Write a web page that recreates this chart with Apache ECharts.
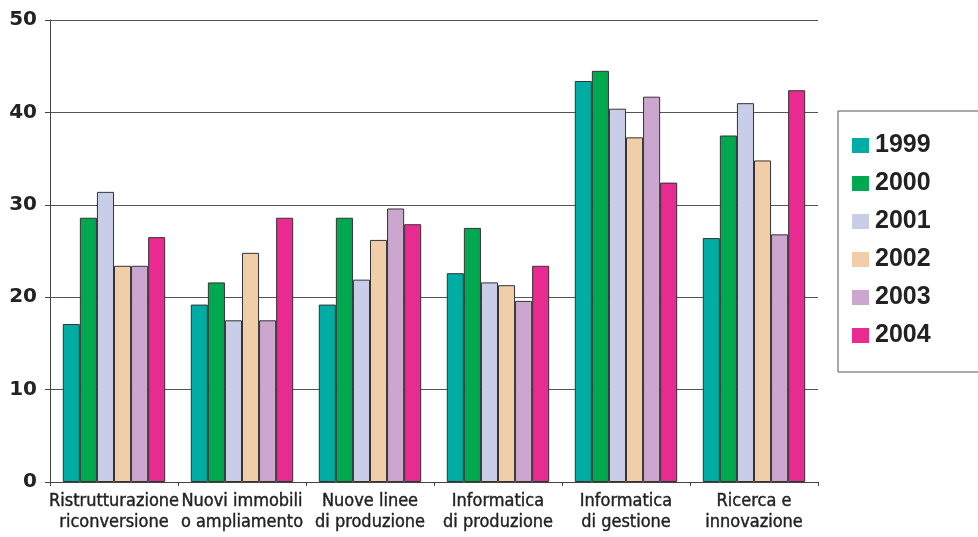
<!DOCTYPE html>
<html>
<head>
<meta charset="utf-8">
<script src="https://cdn.jsdelivr.net/npm/echarts@6/dist/echarts.min.js"></script>
<style>
  html, body { margin: 0; padding: 0; background: #fff; }
  #chart { width: 978px; height: 537px; }
</style>
</head>
<body>
<div id="chart"></div>
<script>
// Investment areas (two-line labels)
const categories = [
  'Ristrutturazione\nriconversione',
  'Nuovi immobili\no ampliamento',
  'Nuove linee\ndi produzione',
  'Informatica\ndi produzione',
  'Informatica\ndi gestione',
  'Ricerca e\ninnovazione'
];

const years = ['1999', '2000', '2001', '2002', '2003', '2004'];

// Percentages per year, one value per category
const v1999 = [17.1, 19.2, 19.2, 22.6, 43.4, 26.4];
const v2000 = [28.6, 21.6, 28.6, 27.5, 44.5, 37.5];
const v2001 = [31.4, 17.5, 21.9, 21.6, 40.4, 41.0];
const v2002 = [23.4, 24.8, 26.2, 21.3, 37.3, 34.8];
const v2003 = [23.4, 17.5, 29.6, 19.6, 41.7, 26.8];
const v2004 = [26.5, 28.6, 27.9, 23.4, 32.4, 42.4];

const seriesValues = [v1999, v2000, v2001, v2002, v2003, v2004];
const colors = ['#00ADA5', '#00A84F', '#C9CEE8', '#F2CEA8', '#CBA7CF', '#E92A8F'];

const yTicks = [0, 10, 20, 30, 40, 50];

const narrow = '"Liberation Sans Narrow", "DejaVu Sans Condensed", "Liberation Sans", sans-serif';

const chart = echarts.init(document.getElementById('chart'), null, { renderer: 'canvas' });

chart.setOption({
  animation: false,
  color: colors,
  grid: { left: 50, right: 160, top: 20, bottom: 55 },
  graphic: [{
    type: 'rect',
    shape: { x: 838, y: 111, width: 160, height: 261 },
    style: { fill: '#fff', stroke: '#555', lineWidth: 1 }
  }],
  legend: {
    orient: 'vertical',
    left: 847,
    top: 128,
    itemWidth: 17,
    itemHeight: 15,
    itemGap: 13,
    icon: 'rect',
    data: years,
    itemStyle: { borderWidth: 0 },
    textStyle: {
      fontFamily: '"Liberation Sans", Arial, sans-serif',
      fontSize: 25,
      fontWeight: 'bold',
      color: '#222',
      lineHeight: 25,
      padding: [0, 0, 0, 1]
    }
  },
  xAxis: {
    type: 'category',
    data: categories,
    axisLine: { lineStyle: { color: '#444', width: 1 } },
    axisTick: { show: true, alignWithLabel: false, length: 4, lineStyle: { color: '#444' } },
    axisLabel: {
      interval: 0,
      margin: 9,
      fontFamily: narrow,
      fontSize: 18,
      lineHeight: 21,
      color: '#222',
      textBorderColor: '#222',
      textBorderWidth: 0.4
    }
  },
  yAxis: {
    type: 'value',
    min: 0,
    max: 50,
    interval: 10,
    axisLine: { show: true, lineStyle: { color: '#444', width: 1 } },
    axisTick: { show: true, length: 5, lineStyle: { color: '#444' } },
    splitLine: { show: true, lineStyle: { color: '#555', width: 1 } },
    axisLabel: {
      margin: 13,
      fontFamily: '"DejaVu Sans", sans-serif',
      fontSize: 20,
      fontWeight: 'bold',
      color: '#222',
      formatter: function (v) { return yTicks.indexOf(v) >= 0 ? String(v) : ''; }
    }
  },
  series: years.map(function (y, i) {
    return {
      name: y,
      type: 'bar',
      data: seriesValues[i],
      barGap: '0%',
      barCategoryGap: '20%',
      itemStyle: { color: colors[i], borderColor: '#333', borderWidth: 1 }
    };
  })
});
</script>
</body>
</html>
